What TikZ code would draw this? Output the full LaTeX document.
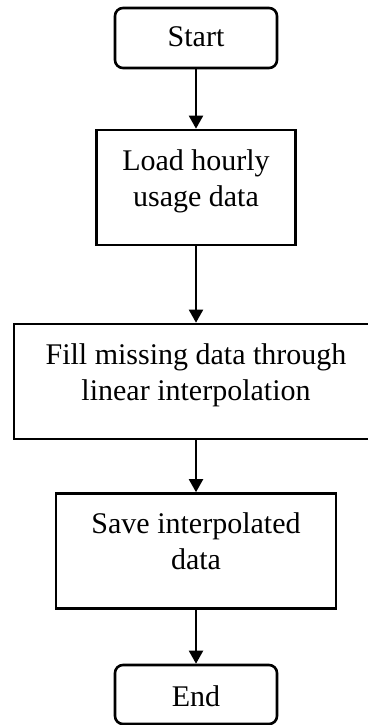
\documentclass[tikz,border=0pt]{standalone}
\usepackage{fontspec}
\setmainfont{Liberation Serif}
\usetikzlibrary{arrows.meta}
\begin{document}
\begin{tikzpicture}[x=1pt,y=-1pt,
  termbox/.style={draw=black, line width=2.6pt, rounded corners=8pt,
    minimum width=162pt, minimum height=60pt, inner sep=0pt},
  procbox/.style={draw=black, line width=2.6pt, minimum height=115pt, inner sep=0pt},
  txt/.style={anchor=base, inner sep=0pt, font=\fontsize{30}{36}\selectfont},
  flow/.style={line width=2pt, -{Triangle[length=13pt,width=14pt]}}]
\useasboundingbox (0,0) rectangle (367,725);

% boxes
\node[termbox] (start) at (196,38) {};
\node[procbox, minimum width=199pt] (load) at (196,187.5) {};
\node[procbox, minimum width=364pt] (fill) at (196,381.5) {};
\node[procbox, minimum width=280pt] (save) at (196,551) {};
\node[termbox, minimum height=59pt] (end) at (196,694.5) {};

% labels
\node[txt] (tstart) at (196,47) {Start};
\node[txt] (tload1) at (196,170) {Load hourly};
\node[txt] (tload2) at (196,206) {usage data};
\node[txt] (tfill1) at (196,364) {Fill missing data through};
\node[txt] (tfill2) at (196,400) {linear interpolation};
\node[txt] (tsave1) at (196,533) {Save interpolated};
\node[txt] (tsave2) at (196,569) {data};
\node[txt] (tend) at (196,706) {End};

% connectors
\draw[flow] (start.south) -- (load.north);
\draw[flow] (load.south) -- (fill.north);
\draw[flow] (fill.south) -- (save.north);
\draw[flow] (save.south) -- (end.north);
\end{tikzpicture}
\end{document}
